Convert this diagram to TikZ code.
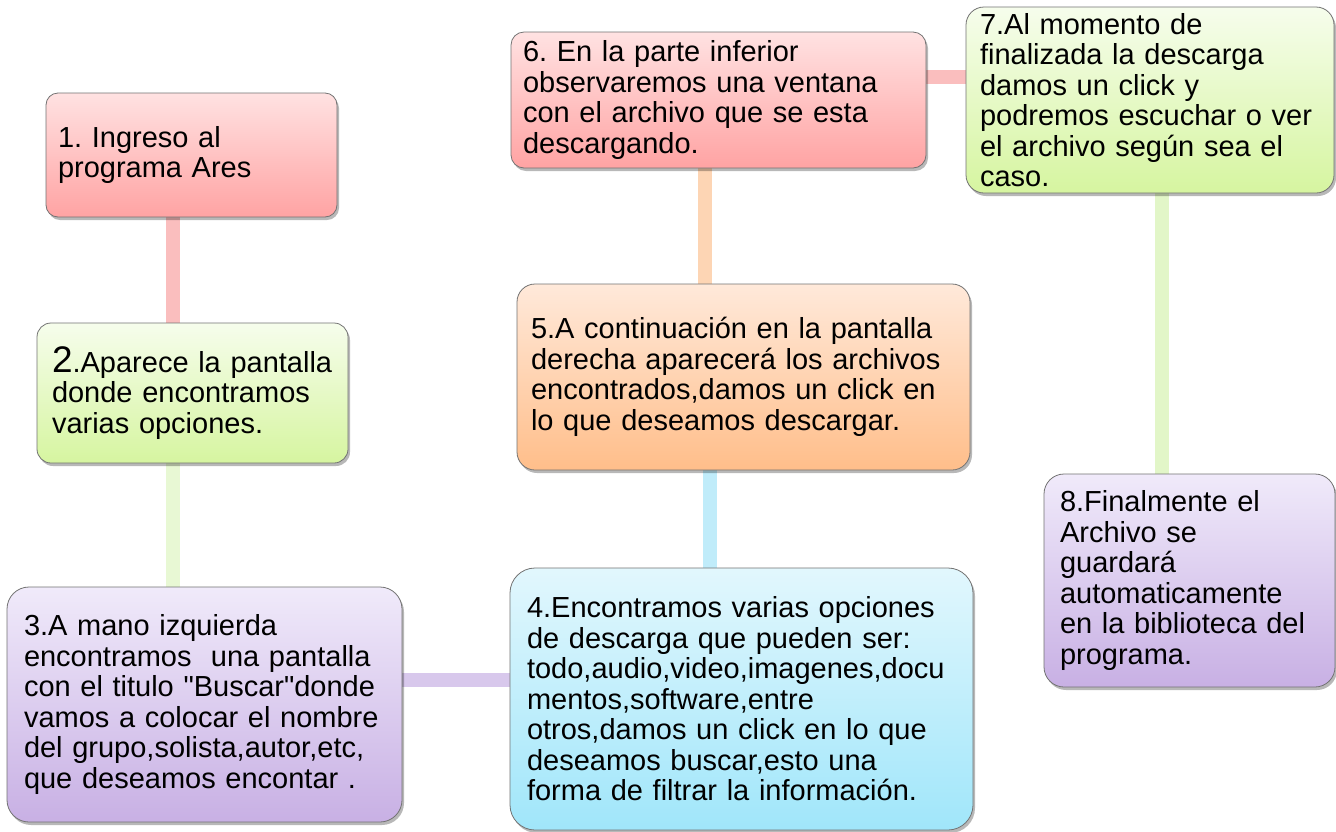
\documentclass[tikz,border=0pt]{standalone}
\usepackage{fontspec}
\setmainfont{Liberation Sans}[Ligatures=TeXOff]
\usetikzlibrary{shadows,backgrounds}
\definecolor{pinkT}{RGB}{255,226,226}
\definecolor{pinkB}{RGB}{255,163,163}
\definecolor{greenT}{RGB}{246,253,236}
\definecolor{greenB}{RGB}{214,245,160}
\definecolor{purpT}{RGB}{240,234,250}
\definecolor{purpB}{RGB}{200,176,228}
\definecolor{cyanT}{RGB}{226,247,253}
\definecolor{cyanB}{RGB}{160,230,250}
\definecolor{orT}{RGB}{255,233,218}
\definecolor{orB}{RGB}{255,190,138}
\definecolor{cPink}{RGB}{250,190,190}
\definecolor{cGreen}{RGB}{232,248,212}
\definecolor{cGreenB}{RGB}{226,246,200}
\definecolor{cPurp}{RGB}{216,200,236}
\definecolor{cCyan}{RGB}{192,236,250}
\definecolor{cOr}{RGB}{253,213,180}
\frenchspacing
\tikzset{
  stepbox/.style={draw=black!55, line width=0.8pt, rectangle, align=left,
    inner ysep=0pt, font=\fontsize{29}{30.5}\selectfont,
    drop shadow={shadow xshift=2pt, shadow yshift=-3pt, opacity=0.28, fill=black}},
  pinkbox/.style={stepbox, top color=pinkT, bottom color=pinkB},
  greenbox/.style={stepbox, top color=greenT, bottom color=greenB},
  purpbox/.style={stepbox, top color=purpT, bottom color=purpB},
  cyanbox/.style={stepbox, top color=cyanT, bottom color=cyanB},
  orbox/.style={stepbox, top color=orT, bottom color=orB},
  conn/.style={line width=14pt},
  connshade/.style={line width=14pt, draw=black, opacity=0.12},
}
\begin{document}
\begin{tikzpicture}[x=1pt,y=-1pt]
\useasboundingbox (0,0) rectangle (1336,831);

\node[pinkbox, rounded corners=12pt, inner xsep=12pt, text width=267pt, minimum height=124pt] (b1) at (191.5,155)
  {1. Ingreso al\\programa Ares};
\node[greenbox, rounded corners=14pt, inner xsep=15pt, text width=281pt, minimum height=140pt] (b2) at (192.5,393)
  {{\fontsize{37}{30.5}\selectfont 2}.Aparece la pantalla\\donde encontramos\\varias opciones.};
\node[purpbox, rounded corners=22pt, inner xsep=17pt, text width=361pt, minimum height=235pt] (b3) at (204.5,704.5)
  {3.A mano izquierda\\encontramos\ \ una pantalla\\con el titulo "Buscar"donde\\vamos a colocar el nombre\\del grupo,solista,autor,etc,\\que deseamos encontar .};
\node[cyanbox, rounded corners=25pt, inner xsep=17pt, text width=429pt, minimum height=262pt] (b4) at (741.5,699)
  {4.Encontramos varias opciones\\de descarga que pueden ser:\\todo,audio,video,imagenes,docu\\mentos,software,entre\\otros,damos un click en lo que\\deseamos buscar,esto una\\forma de filtrar la información.};
\node[orbox, rounded corners=18pt, inner xsep=14pt, text width=425pt, minimum height=186pt] (b5) at (743.5,377)
  {5.A continuación en la pantalla\\derecha aparecerá los archivos\\encontrados,damos un click en\\lo que deseamos descargar.};
\node[pinkbox, rounded corners=13pt, inner xsep=12pt, text width=391pt, minimum height=136pt] (b6) at (718.5,100)
  {6. En la parte inferior\\observaremos una ventana\\con el archivo que se esta\\descargando.};
\node[greenbox, rounded corners=18pt, inner xsep=14pt, text width=340pt, minimum height=186pt] (b7) at (1150,100)
  {7.Al momento de\\finalizada la descarga\\damos un click y\\podremos escuchar o ver\\el archivo según sea el\\caso.};
\node[purpbox, rounded corners=20pt, inner xsep=16pt, text width=259pt, minimum height=213pt] (b8) at (1189.5,580.5)
  {8.Finalmente el\\Archivo se\\guardará\\automaticamente\\en la biblioteca del\\programa.};

\begin{scope}[on background layer]
\fill[white] (0,0) rectangle (1336,831);
\begin{scope}[xshift=1.5pt,yshift=-2pt]
\draw[connshade] ([xshift=-18.5pt]b1.south) -- ([xshift=-18.5pt]b1.south |- b2.north);
\draw[connshade] ([xshift=-19.5pt]b2.south) -- ([xshift=-19.5pt]b2.south |- b3.north);
\draw[connshade] ([yshift=24.5pt]b3.east) -- ([yshift=24.5pt]b3.east -| b4.west);
\draw[connshade] ([xshift=-31.5pt]b4.north) -- ([xshift=-31.5pt]b4.north |- b5.south);
\draw[connshade] ([xshift=-38.5pt]b5.north) -- ([xshift=-38.5pt]b5.north |- b6.south);
\draw[connshade] ([yshift=23pt]b6.east) -- ([yshift=23pt]b6.east -| b7.west);
\draw[connshade] ([xshift=12pt]b7.south) -- ([xshift=12pt]b7.south |- b8.north);
\end{scope}
\draw[conn, cPink] ([xshift=-18.5pt]b1.south) -- ([xshift=-18.5pt]b1.south |- b2.north);
\draw[conn, cGreen] ([xshift=-19.5pt]b2.south) -- ([xshift=-19.5pt]b2.south |- b3.north);
\draw[conn, cPurp] ([yshift=24.5pt]b3.east) -- ([yshift=24.5pt]b3.east -| b4.west);
\draw[conn, cCyan] ([xshift=-31.5pt]b4.north) -- ([xshift=-31.5pt]b4.north |- b5.south);
\draw[conn, cOr] ([xshift=-38.5pt]b5.north) -- ([xshift=-38.5pt]b5.north |- b6.south);
\draw[conn, cPink] ([yshift=23pt]b6.east) -- ([yshift=23pt]b6.east -| b7.west);
\draw[conn, cGreenB] ([xshift=12pt]b7.south) -- ([xshift=12pt]b7.south |- b8.north);
\end{scope}
\end{tikzpicture}
\end{document}
